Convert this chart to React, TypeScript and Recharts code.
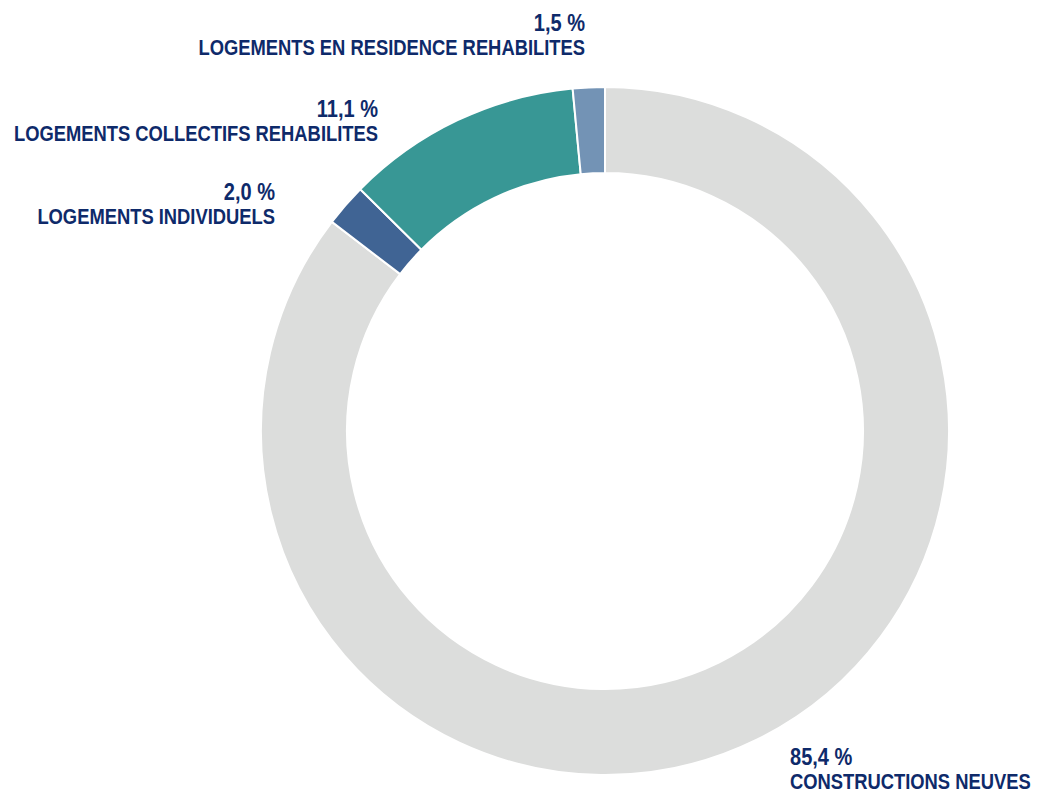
import { PieChart, Pie, Cell } from "recharts";

const categories = [
  "CONSTRUCTIONS NEUVES",
  "LOGEMENTS INDIVIDUELS",
  "LOGEMENTS COLLECTIFS REHABILITES",
  "LOGEMENTS EN RESIDENCE REHABILITES",
];
const shares = [85.4, 2.0, 11.1, 1.5];
const colors = ["#dcdddc", "#406494", "#389795", "#7393b5"];

// where each label sits (page pixels), text anchor side
const labelLayout = [
  { x: 790, y: 765, anchor: "start" },
  { x: 275, y: 200, anchor: "end" },
  { x: 378, y: 117, anchor: "end" },
  { x: 585, y: 31, anchor: "end" },
];

const data = categories.map((name, i) => ({ name, value: shares[i] }));

const fmt = (v: number) => v.toFixed(1).replace(".", ",") + " %";

const FONT = "'Liberation Sans', Arial, sans-serif";
const INK = "#0e2a6a";
const SQUEEZE = 0.835; // the original face is a condensed grotesque

function renderLabel(props: any) {
  const pos = labelLayout[props.index];
  if (!pos) return null;
  return (
    <g transform={`translate(${pos.x},${pos.y}) scale(${SQUEEZE},1)`}>
      <text x={0} y={0} textAnchor={pos.anchor} fill={INK} fontFamily={FONT} fontWeight={700} fontSize={24}>
        {fmt(shares[props.index])}
      </text>
      <text x={0} y={24} textAnchor={pos.anchor} fill={INK} fontFamily={FONT} fontWeight={700} fontSize={22}>
        {categories[props.index]}
      </text>
    </g>
  );
}

export default function App() {
  return (
    <div style={{ position: "fixed", left: 0, top: 0, width: 1037, height: 792, background: "#fff" }}>
      <PieChart width={1037} height={792} margin={{ top: 0, right: 0, bottom: 0, left: 0 }}>
        <Pie
          data={data}
          dataKey="value"
          nameKey="name"
          cx={605}
          cy={431}
          innerRadius={258}
          outerRadius={344}
          startAngle={90}
          endAngle={-270}
          stroke="#ffffff"
          strokeWidth={2}
          label={renderLabel}
          labelLine={false}
          isAnimationActive={false}
        >
          {data.map((d, i) => (
            <Cell key={d.name} fill={colors[i]} />
          ))}
        </Pie>
      </PieChart>
    </div>
  );
}
